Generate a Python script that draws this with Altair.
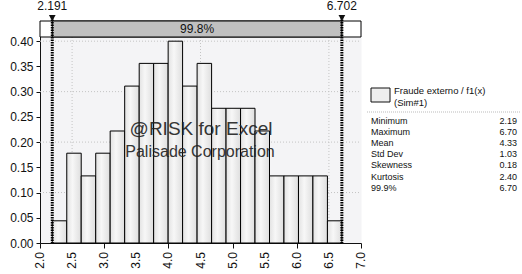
import altair as alt
import pandas as pd

# ---------------- data ----------------
bin_edges = [2.191, 2.417, 2.642, 2.868, 3.093, 3.319, 3.545, 3.770, 3.996, 4.221,
             4.447, 4.673, 4.898, 5.124, 5.349, 5.575, 5.800, 6.026, 6.251, 6.477, 6.702]
densities = [0.044, 0.178, 0.133, 0.178, 0.222, 0.311, 0.356, 0.356, 0.400, 0.311,
             0.356, 0.267, 0.267, 0.267, 0.222, 0.133, 0.133, 0.133, 0.133, 0.044]
marker_values = [2.191, 6.702]
marker_labels = ["2.191", "6.702"]
band_label = "99.8%"
x_ticks = [2.0, 2.5, 3.0, 3.5, 4.0, 4.5, 5.0, 5.5, 6.0, 6.5, 7.0]
x_tick_labels = ["2.0", "2.5", "3.0", "3.5", "4.0", "4.5", "5.0", "5.5", "6.0", "6.5", "7.0"]
y_ticks = [0.0, 0.05, 0.10, 0.15, 0.20, 0.25, 0.30, 0.35, 0.40]
grid_x = [2.5, 4.5, 6.5]
grid_y = [0.1, 0.2, 0.3, 0.4]
legend_lines = ["Fraude externo / f1(x)", "(Sim#1)"]
stat_names = ["Minimum", "Maximum", "Mean", "Std Dev", "Skewness", "Kurtosis", "99.9%"]
stat_values = ["2.19", "6.70", "4.33", "1.03", "0.18", "2.40", "6.70"]
watermark = ["@RISK for Excel", "Palisade Corporation"]

X_DOMAIN = [2.0, 7.0]
Y_DOMAIN = [0.0, 0.44]
W, H = 321, 222
FONT = "Liberation Sans"

bars = pd.DataFrame({
    "start": bin_edges[:-1],
    "end": bin_edges[1:],
    "density": densities,
})
markers = pd.DataFrame({"x": marker_values, "label": marker_labels})
band_full = pd.DataFrame({"x": [X_DOMAIN[0]], "x2": [X_DOMAIN[1]]})
band_mid = pd.DataFrame({"x": [marker_values[0]], "x2": [marker_values[1]],
                         "c": [(marker_values[0] + marker_values[1]) / 2], "t": [band_label]})
gx = pd.DataFrame({"x": grid_x})
gy = pd.DataFrame({"y": grid_y})
xt = pd.DataFrame({"x": x_ticks, "label": x_tick_labels})

xscale = alt.Scale(domain=X_DOMAIN, nice=False, zero=False)
yscale = alt.Scale(domain=Y_DOMAIN, nice=False, zero=True)

xaxis = alt.Axis(values=x_ticks, labels=False, tickColor="#111", domainColor="#111",
                 tickSize=5, grid=False, title=None)
yaxis = alt.Axis(values=y_ticks, format=".2f", labelFontSize=12, labelFont=FONT,
                 labelColor="#111", tickColor="#111", domainColor="#111",
                 tickSize=4, labelPadding=3, grid=False, title=None,
                 labelOverlap=False, labelFlush=False)

grid_v = alt.Chart(gx).mark_rule(color="#c4c4c4", strokeDash=[1, 2], strokeWidth=1).encode(
    x=alt.X("x:Q", scale=xscale, axis=xaxis),
    y=alt.value(16), y2=alt.value(H))
grid_h = alt.Chart(gy).mark_rule(color="#c4c4c4", strokeDash=[1, 2], strokeWidth=1).encode(
    y=alt.Y("y:Q", scale=yscale, axis=yaxis),
    x=alt.value(0), x2=alt.value(W))

bar_fill = alt.Gradient(
    gradient="linear", x1=0, x2=1, y1=0, y2=0,
    stops=[alt.GradientStop(color="#e2e2e2", offset=0),
           alt.GradientStop(color="#f7f7f7", offset=0.4),
           alt.GradientStop(color="#dedede", offset=1)])

hist = alt.Chart(bars).mark_rect(fill=bar_fill, stroke="#000", strokeWidth=1).encode(
    x=alt.X("start:Q", scale=xscale, axis=xaxis),
    x2="end:Q",
    y=alt.Y("density:Q", scale=yscale, axis=yaxis),
    y2=alt.datum(0),
)

xlabels = alt.Chart(xt).mark_text(font=FONT, fontSize=12, color="#111", angle=270,
                                  align="right", baseline="middle").encode(
    x=alt.X("x:Q", scale=xscale), y=alt.value(H + 9), text="label:N")

band_box = alt.Chart(band_full).mark_rect(fill="white", stroke="#000", strokeWidth=1).encode(
    x=alt.X("x:Q", scale=xscale), x2="x2:Q", y=alt.value(0), y2=alt.value(16))
band_gray = alt.Chart(band_mid).mark_rect(fill="#c0c0c0", stroke="#000", strokeWidth=1).encode(
    x=alt.X("x:Q", scale=xscale), x2="x2:Q", y=alt.value(0), y2=alt.value(16))
band_text = alt.Chart(band_mid).mark_text(font=FONT, fontSize=12, color="#111",
                                          baseline="middle").encode(
    x=alt.X("c:Q", scale=xscale), y=alt.value(8), text="t:N")

marker_rule = alt.Chart(markers).mark_rule(color="#000", strokeWidth=3,
                                           strokeDash=[1.5, 1]).encode(
    x=alt.X("x:Q", scale=xscale), y=alt.value(-4), y2=alt.value(H))
marker_tri = alt.Chart(markers).mark_point(shape="triangle-down", filled=True, color="#111",
                                           size=45, opacity=1).encode(
    x=alt.X("x:Q", scale=xscale), y=alt.value(-3))
marker_txt = alt.Chart(markers).mark_text(font=FONT, fontSize=12, color="#111",
                                          baseline="bottom").encode(
    x=alt.X("x:Q", scale=xscale), y=alt.value(-8), text="label:N")

wm1 = alt.Chart(band_full).mark_text(text=watermark[0], font=FONT, fontSize=19, color="#222",
                                     opacity=0.9, baseline="middle").encode(
    x=alt.value(161), y=alt.value(108))
wm2 = alt.Chart(band_full).mark_text(text=watermark[1], font=FONT, fontSize=16, color="#222",
                                     opacity=0.9, baseline="middle").encode(
    x=alt.value(160), y=alt.value(131))

swatch = alt.Chart(band_full).mark_rect(fill="#eeeeee", stroke="#111", strokeWidth=1).encode(
    x=alt.value(331), x2=alt.value(350), y=alt.value(67), y2=alt.value(81))
leg_txt = alt.Chart(band_full).mark_text(text=legend_lines, font=FONT, fontSize=9.5,
                                         color="#111", align="left", baseline="top",
                                         lineHeight=12).encode(
    x=alt.value(354), y=alt.value(65))
sep = alt.Chart(band_full).mark_rule(color="#bbbbbb", strokeDash=[1, 1]).encode(
    x=alt.value(327), x2=alt.value(480), y=alt.value(91))
st_names = alt.Chart(band_full).mark_text(text=stat_names, font=FONT, fontSize=9,
                                          color="#111", align="left", baseline="middle",
                                          lineHeight=11.1).encode(
    x=alt.value(331), y=alt.value(100))
st_vals = alt.Chart(band_full).mark_text(text=stat_values, font=FONT, fontSize=9,
                                         color="#111", align="right", baseline="middle",
                                         lineHeight=11.1).encode(
    x=alt.value(477), y=alt.value(100))

chart = alt.layer(
    grid_v, grid_h, hist, xlabels, band_box, band_gray, band_text,
    wm1, wm2, marker_rule, marker_tri, marker_txt,
    swatch, leg_txt, sep, st_names, st_vals,
).properties(
    width=W, height=H,
    autosize=alt.AutoSizeParams(type="none"),
    padding={"left": 40, "top": 21, "right": 161, "bottom": 31},
    background="white",
).configure_view(
    fill="#f4f4f6", stroke="transparent"
)

chart.save("out.html", embed_options={"renderer": "svg", "actions": False})
